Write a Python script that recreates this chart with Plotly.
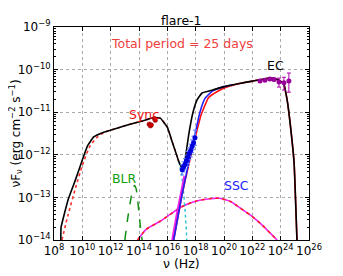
import plotly.graph_objects as go

# ---- data (log10 nu [Hz], log10 nuFnu [erg cm^-2 s^-1]) ----
total_lnu = [8.48, 8.5, 9.0, 9.5, 10.0, 10.35, 10.8, 11.5, 12.5, 13.5, 14.3, 15.0, 15.5, 16.0, 16.3, 16.55, 16.8, 17.03, 17.25, 17.5, 17.8, 18.1, 18.45, 19.2, 20.0, 21.0, 22.0, 22.8, 23.3, 23.8, 24.2, 24.45, 24.7, 24.95, 25.15]
total_lfl = [-14.0, -13.7, -13.05, -12.6, -12.12, -11.8, -11.58, -11.47, -11.37, -11.27, -11.2, -11.13, -11.14, -11.35, -11.65, -11.9, -12.15, -12.31, -12.12, -11.55, -11.02, -10.71, -10.55, -10.48, -10.4, -10.33, -10.27, -10.22, -10.2, -10.24, -10.32, -10.7, -11.35, -12.2, -14.0]

sync_lnu = [8.56, 9.0, 9.5, 10.0, 10.5, 11.0, 11.5, 12.5, 13.5, 14.3, 15.0, 15.5, 16.0, 16.3, 16.55, 16.8]
sync_lfl = [-14.0, -13.4, -12.8, -12.25, -11.82, -11.6, -11.48, -11.37, -11.27, -11.2, -11.13, -11.14, -11.35, -11.65, -11.9, -12.15]
synctail_lnu = [16.8, 17.0, 17.15, 17.28, 17.38]
synctail_lfl = [-12.15, -12.45, -12.9, -13.45, -14.0]

ec_lnu = [16.45, 17.0, 17.5, 18.0, 18.4, 18.9, 19.5, 20.2, 21.0, 22.0, 22.8, 23.3, 23.8, 24.2, 24.45, 24.7, 24.95, 25.15]
ec_lfl = [-14.0, -13.0, -12.25, -11.55, -11.05, -10.66, -10.52, -10.41, -10.33, -10.27, -10.22, -10.2, -10.24, -10.32, -10.7, -11.35, -12.2, -14.0]

ecb_lnu = [16.45, 17.0, 17.5, 18.0, 18.3, 18.65, 19.2, 20.0, 20.6]
ecb_lfl = [-14.0, -13.0, -12.2, -11.45, -11.0, -10.68, -10.5, -10.4, -10.36]

mag_lnu = [16.35, 16.7, 17.0, 17.2]
mag_lfl = [-14.0, -13.35, -12.85, -12.5]

ssc_lnu = [13.9, 14.5, 15.5, 16.2, 17.0, 18.0, 19.0, 19.7, 20.5, 21.1, 22.0, 22.7, 23.3, 23.75]
ssc_lfl = [-14.0, -13.75, -13.56, -13.4, -13.22, -13.09, -13.03, -13.02, -13.1, -13.24, -13.45, -13.65, -13.85, -14.0]

blr_lnu = [13.0, 13.2, 13.4, 13.55, 13.68, 13.8, 13.95, 14.1, 14.22]
blr_lfl = [-14.0, -13.5, -13.08, -12.82, -12.72, -12.8, -13.2, -13.7, -14.0]

opt_lnu = [14.72, 14.8, 14.87, 15.1, 15.15]
opt_lfl = [-11.28, -11.32, -11.3, -11.15, -11.19]

xr_lnu = [17.05, 17.15, 17.25, 17.35, 17.45, 17.55, 17.65, 17.75, 17.85, 17.95]
xr_lfl = [-12.35, -12.28, -12.22, -12.14, -12.06, -11.97, -11.9, -11.8, -11.72, -11.6]
xr_err = [0.12, 0.12, 0.13, 0.13, 0.14, 0.14, 0.15, 0.15, 0.16, 0.18]

lat_lnu = [22.54, 22.89, 23.24, 23.53, 23.88, 24.23, 24.58]
lat_lfl = [-10.27, -10.25, -10.22, -10.23, -10.29, -10.31, -10.27]
lat_up = [0.02, 0.02, 0.02, 0.03, 0.09, 0.13, 0.19]
lat_dn = [0.02, 0.02, 0.02, 0.03, 0.12, 0.17, 0.26]

x_tick_exp = [8, 10, 12, 14, 16, 18, 20, 22, 24, 26]
y_tick_exp = [-9, -10, -11, -12, -13, -14]


def p(v):
    return [10.0 ** a for a in v]


def err_arrays(lfl, up, dn):
    hi = [10.0 ** (a + u) - 10.0 ** a for a, u in zip(lfl, up)]
    lo = [10.0 ** a - 10.0 ** (a - d) for a, d in zip(lfl, dn)]
    return hi, lo


fig = go.Figure()

def line(xs, ys, color, width=1.6, dash="solid", smooth=0.5):
    fig.add_trace(go.Scatter(x=p(xs), y=p(ys), mode="lines", line=dict(color=color, width=width, dash=dash, shape="spline", smoothing=smooth), showlegend=False, hoverinfo="skip"))

line(blr_lnu, blr_lfl, "#109010", 1.5, "dash")
line(ssc_lnu, ssc_lfl, "#ee22ee", 1.6)
line(ssc_lnu, ssc_lfl, "#ff2020", 1.6, "3px,4px")
line(sync_lnu, sync_lfl, "#ff3030", 1.6, "dot")
line(synctail_lnu, synctail_lfl, "#20c0d0", 1.4, "dot")
line(mag_lnu, mag_lfl, "#ee22ee", 2.2)
line(ec_lnu, ec_lfl, "#ff1010", 1.6, smooth=0.3)
line(ecb_lnu, ecb_lfl, "#2020ff", 1.6)
line(total_lnu, total_lfl, "#000000", 1.6, smooth=0.3)

# data points
fig.add_trace(go.Scatter(x=p(opt_lnu), y=p(opt_lfl), mode="markers", marker=dict(color="#cc0000", size=4.5, line=dict(color="#880000", width=0.5)), showlegend=False))
xr_hi, xr_lo = err_arrays(xr_lfl, xr_err, xr_err)
fig.add_trace(go.Scatter(x=p(xr_lnu), y=p(xr_lfl), mode="markers",
                         error_y=dict(type="data", array=xr_hi, arrayminus=xr_lo, color="#7090ff", thickness=1.2, width=2),
                         marker=dict(color="#0000dd", size=5), showlegend=False))
lat_hi, lat_lo = err_arrays(lat_lfl, lat_up, lat_dn)
fig.add_trace(go.Scatter(x=p(lat_lnu), y=p(lat_lfl), mode="markers",
                         error_y=dict(type="data", array=lat_hi, arrayminus=lat_lo, color="#aa00aa", thickness=1, width=2),
                         marker=dict(color="#990099", size=5), showlegend=False))

font = "DejaVu Sans"
annots = [
    dict(x=0.5, y=1.0, xref="paper", yref="paper", text="flare-1", showarrow=False, yanchor="bottom", yshift=-3, font=dict(size=12.5, color="black", family=font)),
    dict(x=0.5, y=-9.38, xref="paper", yref="y", text="Total period = 25 days", showarrow=False, font=dict(size=12.5, color="#f04040", family=font)),
    dict(x=23.65, y=-9.9, xref="x", yref="y", text="EC", showarrow=False, font=dict(size=12.5, color="black", family=font)),
    dict(x=14.38, y=-11.05, xref="x", yref="y", text="Sync", showarrow=False, font=dict(size=12.5, color="#ee1010", family=font)),
    dict(x=13.0, y=-12.56, xref="x", yref="y", text="BLR", showarrow=False, font=dict(size=12.5, color="#10a010", family=font)),
    dict(x=20.9, y=-12.71, xref="x", yref="y", text="SSC", showarrow=False, font=dict(size=12.5, color="#2020ff", family=font)),
    dict(x=0.5, y=0, xref="paper", yref="paper", text="ν (Hz)", showarrow=False, yanchor="middle", yshift=-23, font=dict(size=12.5, color="black", family=font)),
    dict(x=0, y=0.5, xref="paper", yref="paper", text="νF<sub>ν</sub> (erg cm<sup>−2</sup> s<sup>−1</sup>)", textangle=-90, showarrow=False, xanchor="center", xshift=-39, font=dict(size=12, color="black", family=font)),
]
fig.update_layout(annotations=annots)

y_minor = []
for e in range(-14, -9):
    for k in range(2, 10):
        y_minor.append(k * 10.0 ** e)

fig.update_xaxes(type="log", range=[8, 26], tickvals=[10.0 ** e for e in x_tick_exp],
                 ticktext=["10<sup>%d</sup>" % e for e in x_tick_exp], tickangle=0, automargin=False,
                 ticks="inside", ticklen=4, tickcolor="black", showline=True, linecolor="black", linewidth=1, mirror="allticks",
                 showgrid=True, gridcolor="#aaaaaa", griddash="dot", gridwidth=1, zeroline=False,
                 tickfont=dict(size=12, family=font, color="black"))
fig.update_yaxes(type="log", range=[-14, -9], tickvals=[10.0 ** e for e in y_tick_exp],
                 ticktext=["10<sup>−%d</sup>" % (-e) for e in y_tick_exp], automargin=False,
                 ticks="inside", ticklen=4, tickcolor="black", showline=True, linecolor="black", linewidth=1, mirror="allticks",
                 showgrid=True, gridcolor="#aaaaaa", griddash="dot", gridwidth=1, zeroline=False,
                 minor=dict(tickvals=y_minor, ticks="inside", ticklen=2, tickcolor="black", showgrid=False),
                 tickfont=dict(size=12, family=font, color="black"))

fig.update_layout(width=335, height=268, margin=dict(l=46, r=34, t=19, b=36),
                  plot_bgcolor="white", paper_bgcolor="white", showlegend=False,
                  font=dict(family=font))

fig.write_html("out.html")
